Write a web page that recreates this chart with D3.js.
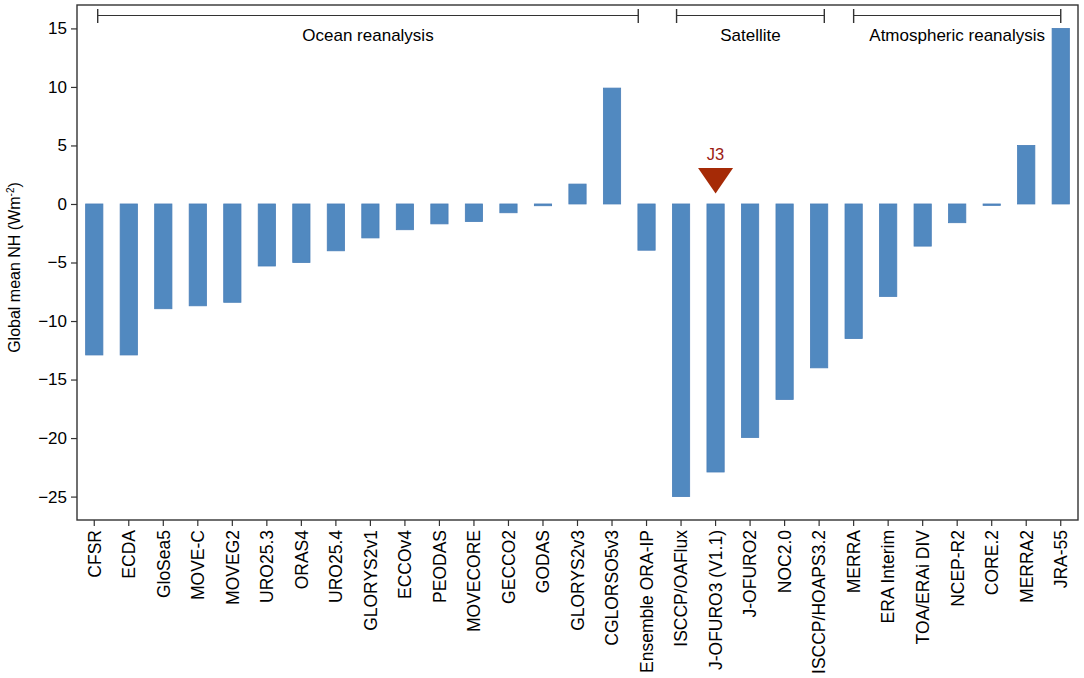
<!DOCTYPE html>
<html>
<head>
<meta charset="utf-8">
<script src="https://cdn.jsdelivr.net/npm/d3@7"></script>
<style>
  body { margin: 0; background: #fff; }
  text { font-family: "Liberation Sans", Arial, sans-serif; }
</style>
</head>
<body>
<div id="chart-area"></div>
<script>
var categories = ["CFSR", "ECDA", "GloSea5", "MOVE-C", "MOVEG2", "URO25.3", "ORAS4", "URO25.4",
        "GLORYS2v1", "ECCOv4", "PEODAS", "MOVECORE", "GECCO2", "GODAS", "GLORYS2v3", "CGLORSO5v3",
        "Ensemble ORA-IP", "ISCCP/OAFlux", "J-OFURO3 (V1.1)", "J-OFURO2", "NOC2.0", "ISCCP/HOAPS3.2",
        "MERRA", "ERA Interim", "TOA/ERAi DIV", "NCEP-R2", "CORE.2", "MERRA2", "JRA-55"];
var values = [-12.9, -12.9, -8.95, -8.7, -8.4, -5.3, -5.0, -4.0,
        -2.9, -2.2, -1.7, -1.5, -0.75, -0.15, 1.7, 9.9,
        -3.95, -25.0, -22.9, -19.95, -16.7, -14.0,
        -11.5, -7.9, -3.6, -1.6, -0.12, 5.0, 15.0];
var yTicks = [-25, -20, -15, -10, -5, 0, 5, 10, 15];

// group brackets, in category-index units
var groupNames = ["Ocean reanalysis", "Satellite", "Atmospheric reanalysis"];
var groupStart = [0.1, 16.87, 22.0];
var groupEnd = [15.76, 21.15, 28.0];

var markerCategory = "J-OFURO3 (V1.1)";
var markerLabel = "J3";
var markerTip = 0.9;

var W = 1084, H = 678;
var margin = { left:77, right:6, top:5, bottom:158 };
var width = W - margin.left - margin.right;
var height = H - margin.top - margin.bottom;

var svg = d3.select("#chart-area")
        .append("svg")
                .attr("width", W)
                .attr("height", H)
                .append("g")
                        .attr("transform","translate(" + margin.left + "," + margin.top + ")");

var x = d3.scaleBand()
        .domain(categories)
        .range([0, width])
        .paddingInner(0.5)
        .paddingOuter(0.25);

var y = d3.scaleLinear()
        .domain([-27, 17])
        .range([height, 0]);

var xi = d3.scaleLinear()
        .domain([0, categories.length - 1])
        .range([x(categories[0]) + x.bandwidth()/2, x(categories[categories.length-1]) + x.bandwidth()/2]);

// bars
svg.selectAll("rect.bar")
        .data(values)
        .enter()
        .append("rect")
        .attr("class","bar")
        .attr("x", (d, i) => x(categories[i]))
        .attr("y", d => y(Math.max(0, d)))
        .attr("width", x.bandwidth())
        .attr("height", d => Math.max(1, Math.abs(y(d) - y(0))))
        .attr("fill", "#5189c0")
        .attr("stroke", "#4a7fb8")
        .attr("stroke-width", 0.8);

// axes
var yAxisCall = d3.axisLeft(y)
        .tickValues(yTicks)
        .tickSize(6)
        .tickPadding(4);
var yAxis = svg.append("g")
        .attr("class","y-axis")
        .call(yAxisCall);
yAxis.select(".domain").remove();
yAxis.selectAll("line").attr("stroke","#333").attr("stroke-width",1.2);
yAxis.selectAll("text").attr("font-size","17px").attr("fill","#000");

var xAxisCall = d3.axisBottom(x).tickSize(6).tickSizeOuter(0);
var xAxis = svg.append("g")
        .attr("class","x-axis")
        .attr("transform","translate(0," + height + ")")
        .call(xAxisCall);
xAxis.select(".domain").remove();
xAxis.selectAll("line").attr("stroke","#333").attr("stroke-width",1.2);
xAxis.selectAll("text")
        .attr("font-size","17.5px")
        .attr("fill","#000")
        .attr("y", 0)
        .attr("x", -10)
        .attr("dy", "0.36em")
        .attr("text-anchor","end")
        .attr("transform","rotate(-90)");

// frame
svg.append("rect")
        .attr("x", 0)
        .attr("y", 0)
        .attr("width", width)
        .attr("height", height)
        .attr("fill","none")
        .attr("stroke","#333")
        .attr("stroke-width",1.4);

// y label
var yl = svg.append("text")
        .attr("transform","translate(" + (-57) + "," + (height/2 + 5) + ") rotate(-90)")
        .attr("text-anchor","middle")
        .attr("font-size","16px")
        .attr("fill","#000");
yl.append("tspan").text("Global mean NH (Wm");
yl.append("tspan").attr("font-size","10px").attr("dy","-6").text("-2");
yl.append("tspan").attr("dy","6").text(")");

// group brackets
var groups = svg.selectAll("g.group")
        .data(groupNames)
        .enter()
        .append("g")
        .attr("class","group");
groups.append("line")
        .attr("x1", (d, i) => xi(groupStart[i]))
        .attr("x2", (d, i) => xi(groupEnd[i]))
        .attr("y1", 10.5).attr("y2", 10.5)
        .attr("stroke","#333").attr("stroke-width",1.2);
groups.append("line")
        .attr("x1", (d, i) => xi(groupStart[i]))
        .attr("x2", (d, i) => xi(groupStart[i]))
        .attr("y1", 4).attr("y2", 18)
        .attr("stroke","#333").attr("stroke-width",1.4);
groups.append("line")
        .attr("x1", (d, i) => xi(groupEnd[i]))
        .attr("x2", (d, i) => xi(groupEnd[i]))
        .attr("y1", 4).attr("y2", 18)
        .attr("stroke","#333").attr("stroke-width",1.4);
groups.append("text")
        .attr("x", (d, i) => (xi(groupStart[i]) + xi(groupEnd[i]))/2)
        .attr("y", 36)
        .attr("text-anchor","middle")
        .attr("font-size","17px")
        .attr("fill","#000")
        .text(d => d);

// J3 marker
var mx = x(markerCategory) + x.bandwidth()/2;
var my = y(markerTip);
svg.append("path")
        .attr("d", "M" + (mx - 17.5) + "," + (my - 25.5) + "L" + (mx + 17.5) + "," + (my - 25.5) + "L" + mx + "," + my + "Z")
        .attr("fill","#a52a06");
svg.append("text")
        .attr("x", mx)
        .attr("y", my - 33.5)
        .attr("text-anchor","middle")
        .attr("font-size","16.5px")
        .attr("fill","#9c1c14")
        .text(markerLabel);
</script>
</body>
</html>
